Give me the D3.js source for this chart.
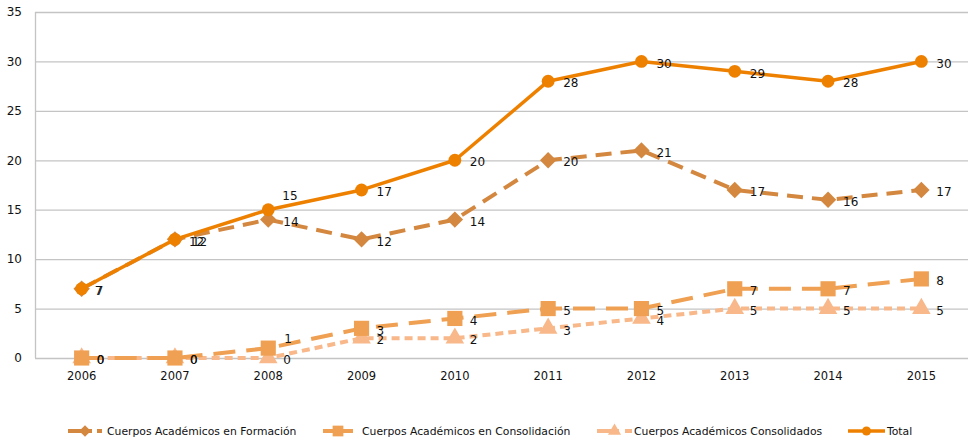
<!DOCTYPE html>
<html><head><meta charset="utf-8">
<script src="https://cdn.jsdelivr.net/npm/d3@7"></script>
<style>body{margin:0;background:#fff}svg{display:block}text{font-family:"Lucida Grande","DejaVu Sans",sans-serif}</style>
</head><body><svg id="c" width="968" height="439"></svg>
<script>
const years = ["2006","2007","2008","2009","2010","2011","2012","2013","2014","2015"];
const formacion = [7,12,14,12,14,20,21,17,16,17];
const consolidacion = [0,0,1,3,4,5,5,7,7,8];
const consolidados = [0,0,0,2,2,3,4,5,5,5];
const total = [7,12,15,17,20,28,30,29,28,30];
const yTicks = [0,5,10,15,20,25,30,35];
const seriesNames = ["Cuerpos Académicos en Formación","Cuerpos Académicos en Consolidación","Cuerpos Académicos Consolidados","Total"];

const svg = d3.select("#c");
const W=968, H=439, L=35, T=12, B=358, R=968;
const x = d3.scaleBand().domain(years).range([L,R]);
const y = d3.scaleLinear().domain([0,35]).range([B,T]);
const cx = d => x(d)+x.bandwidth()/2;

// grid
svg.append("g").selectAll("line").data(yTicks).join("line")
  .attr("x1",L).attr("x2",R).attr("y1",d=>y(d)+0.5).attr("y2",d=>y(d)+0.5)
  .attr("stroke","#c4c4c4").attr("stroke-width",1.3);
svg.append("line").attr("x1",L+0.5).attr("x2",L+0.5).attr("y1",T).attr("y2",B)
  .attr("stroke","#c4c4c4").attr("stroke-width",1.3);

const FF='"Lucida Grande","DejaVu Sans",sans-serif';
const yAxis = d3.axisLeft(y).tickValues(yTicks).tickSize(0).tickPadding(13);
const ya = svg.append("g").attr("transform",`translate(${L},0)`).call(yAxis);
ya.select(".domain").remove();
ya.selectAll("text").attr("font-size",12).attr("fill","#111").attr("font-family",FF);
const xAxis = d3.axisBottom(x).tickSize(0).tickPadding(14);
const xa = svg.append("g").attr("transform",`translate(0,${B})`).call(xAxis);
xa.select(".domain").remove();
xa.selectAll("text").attr("font-size",11.5).attr("fill","#111").attr("font-family",FF);

const S = [
  {name:seriesNames[2], data:consolidados, color:"#F8B88A", dash:"8,5", width:4, shape:d3.symbolTriangle, size:150, rot:0},
  {name:seriesNames[1], data:consolidacion, color:"#EFA052", dash:"22,11", width:4, shape:d3.symbolSquare, size:230, rot:0},
  {name:seriesNames[0], data:formacion, color:"#D3873F", dash:"16,9", width:4, shape:d3.symbolSquare, size:135, rot:45},
  {name:seriesNames[3], data:total, color:"#EE8000", dash:null, width:3.5, shape:d3.symbolCircle, size:130, rot:0},
];
const line = d3.line().x((d,i)=>cx(years[i])).y(d=>y(d));
S.forEach(s=>{
  const g = svg.append("g");
  g.append("path").datum(s.data).attr("d",line).attr("fill","none")
    .attr("stroke",s.color).attr("stroke-width",s.width).attr("stroke-dasharray",s.dash)
    .attr("stroke-linejoin","round");
  g.selectAll("path.m").data(s.data).join("path").attr("class","m")
    .attr("transform",(d,i)=>`translate(${cx(years[i])},${y(d)}) rotate(${s.rot})`)
    .attr("d",d3.symbol().type(s.shape).size(s.size)).attr("fill",s.color);
});
// labels
const offs = {};
offs["Total|2008"]=[14,-14];
offs[seriesNames[1]+"|2008"]=[16,-9];
offs[seriesNames[0]+"|2007"]=[14,2];
offs["Total|2007"]=[17,2];
offs[seriesNames[0]+"|2006"]=[13,2];
offs["Total|2006"]=[14,2];
S.forEach(s=>{
  svg.append("g").selectAll("text").data(s.data).join("text")
    .attr("x",(d,i)=>cx(years[i]) + (offs[s.name+"|"+years[i]]||[15,2])[0])
    .attr("y",(d,i)=>y(d) + (offs[s.name+"|"+years[i]]||[15,2])[1])
    .attr("dy","0.35em").attr("font-size",12).attr("fill","#111").text(d=>d);
});

// legend
const leg = [
  {s:S[2], x0:68, x1:102, tx:107, ld:"24,5"},
  {s:S[1], x0:323, x1:353, tx:362, ld:null},
  {s:S[0], x0:597, x1:632, tx:634, ld:"22,6"},
  {s:S[3], x0:848, x1:885, tx:887, ld:null},
];
const ly = 431;
leg.forEach(l=>{
  const g = svg.append("g");
  g.append("line").attr("x1",l.x0).attr("x2",l.x1).attr("y1",ly).attr("y2",ly)
    .attr("stroke",l.s.color).attr("stroke-width",l.s.width).attr("stroke-dasharray",l.ld);
  g.append("path").attr("transform",`translate(${(l.x0+l.x1)/2},${ly}) rotate(${l.s.rot})`)
    .attr("d",d3.symbol().type(l.s.shape).size(l.s.size*0.5)).attr("fill",l.s.color);
  g.append("text").attr("x",l.tx).attr("y",ly).attr("dy","0.35em").attr("font-size",10.8)
    .attr("fill","#111").text(l.s.name);
});
</script></body></html>
